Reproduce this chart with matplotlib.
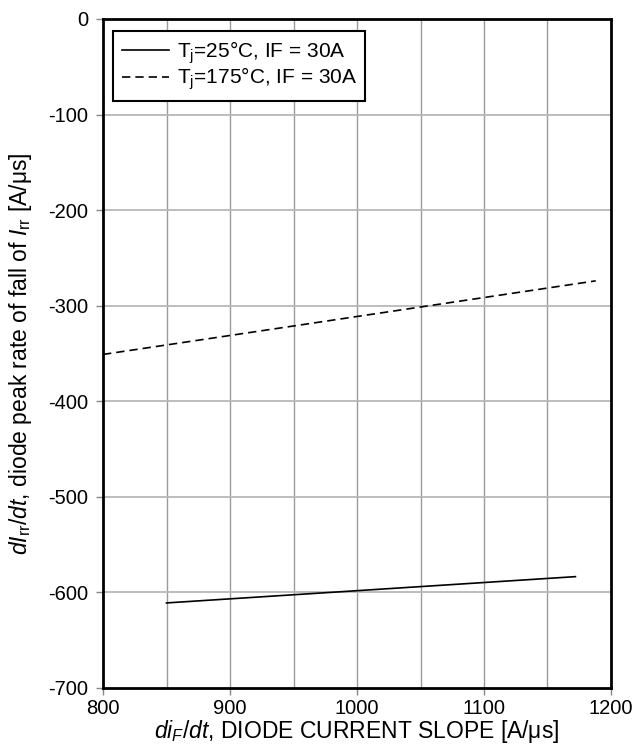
import matplotlib
matplotlib.use("Agg")
import matplotlib.pyplot as plt

plt.rcParams['font.family'] = ['Liberation Sans', 'DejaVu Sans']
plt.rcParams['mathtext.fontset'] = 'custom'
plt.rcParams['mathtext.rm'] = 'Liberation Sans'
plt.rcParams['mathtext.it'] = 'Liberation Sans:italic'
plt.rcParams['mathtext.bf'] = 'Liberation Sans:bold'
plt.rcParams['axes.unicode_minus'] = False

# Data
x_25 = [850, 1172]
y_25 = [-611, -583.5]
x_175 = [800, 1188]
y_175 = [-351, -274]
labels = ["T$_\\mathrm{j}$=25°C, IF = 30A", "T$_\\mathrm{j}$=175°C, IF = 30A"]
xticks = [800, 900, 1000, 1100, 1200]
yticks = [0, -100, -200, -300, -400, -500, -600, -700]

FS_TICK = 14.5
FS_LABEL = 16.5
FS_LEG = 15

fig = plt.figure(figsize=(6.34, 7.47), dpi=100)
ax = fig.add_axes([0.1625, 0.079, 0.8012, 0.8956])

ax.plot(x_25, y_25, color='black', lw=1.2, ls='-', label=labels[0])
ax.plot(x_175, y_175, color='black', lw=1.2, ls=(0, (5, 3)), label=labels[1])

ax.set_xlim(800, 1200)
ax.set_ylim(-700, 0)
ax.set_xticks(xticks)
ax.set_yticks(yticks)

for v in range(850, 1200, 50):
    ax.axvline(v, color='#9a9a9a', lw=1.0, zorder=0)
for v in yticks[1:-1]:
    ax.axhline(v, color='#b8b8b8', lw=1.3, zorder=0)

ax.tick_params(axis='both', which='major', direction='out', length=5, width=1,
               color='#888888', labelsize=FS_TICK)
ax.tick_params(axis='y', pad=5.5)
ax.tick_params(axis='x', pad=3)
for s in ax.spines.values():
    s.set_linewidth(2)
    s.set_color('black')

ax.set_xlabel("$di_F/dt$, DIODE CURRENT SLOPE [A/μs]", fontsize=FS_LABEL, labelpad=0)
ax.set_ylabel("$dI_{\\mathrm{rr}}/dt$, diode peak rate of fall of $I_{\\mathrm{rr}}$ [A/μs]",
              fontsize=FS_LABEL, labelpad=10)

leg = ax.legend(loc='upper left', bbox_to_anchor=(0.02, 0.982), fontsize=FS_LEG,
                frameon=True, fancybox=False, edgecolor='black', framealpha=1,
                handlelength=2.3, handletextpad=0.35, borderpad=0.4,
                labelspacing=0.0, borderaxespad=0)
leg.get_frame().set_linewidth(1.5)

fig.savefig("out.png", dpi=100)
